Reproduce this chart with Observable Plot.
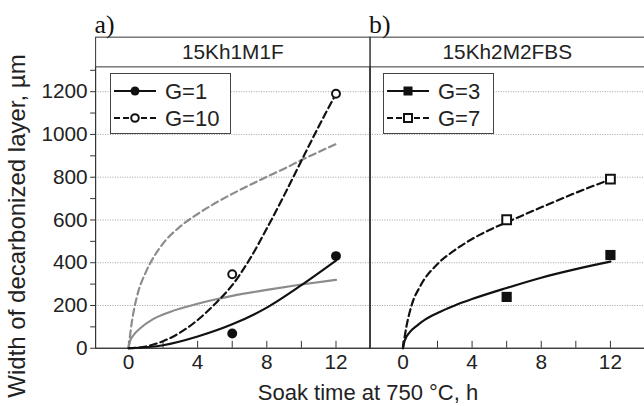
<!DOCTYPE html>
<html><head><meta charset="utf-8">
<script src="https://cdn.jsdelivr.net/npm/d3@7"></script>
<script src="https://cdn.jsdelivr.net/npm/@observablehq/plot@0.6"></script>
<style>
body{margin:0;background:#fff;overflow:hidden}
#wrap{position:relative;width:644px;height:406px;overflow:hidden;font-family:"Liberation Sans",Arial,sans-serif;color:#222;background:#fff}
.ov{position:absolute;white-space:nowrap;line-height:1}
</style></head><body><div id="wrap"></div>
<script>
// ---- data ----
const panels = ["15Kh1M1F", "15Kh2M2FBS"];
const panelTags = ["a)", "b)"];
const seriesA = ["G=1", "G=10"];
const seriesB = ["G=3", "G=7"];
const xTicks = [0, 2, 4, 6, 8, 10, 12];
const xLabels = [0, 4, 8, 12];
const yMajor = [0, 200, 400, 600, 800, 1000, 1200];
const yMinor = [100, 300, 500, 700, 900, 1100, 1300];
const gridVals = [200, 400, 600, 800, 1000, 1200];

// panel a) 15Kh1M1F
const g1Time = [6, 12];
const g1Width = [69, 431];
const g10Time = [6, 12];
const g10Width = [346, 1190];
const g1FitTime = [0, 2, 4, 6, 8, 10, 12];
const g1FitWidth = [0, 14, 55, 112, 190, 295, 410];
const g10FitTime = [0, 1, 2, 3, 4, 5, 6, 7, 8, 9, 10, 11, 12];
const g10FitWidth = [0, 8, 33, 74, 132, 207, 295, 415, 560, 715, 877, 1037, 1190];
const greySolidTime = [0, 0.1, 0.3, 0.7, 1.4, 2.4, 4, 5, 6, 8, 10, 12];
const greySolidWidth = [0, 35, 62, 95, 135, 170, 208, 228, 245, 273, 298, 320];
const greyDashTime = [0, 0.2, 0.5, 1, 1.5, 2, 3, 4, 5, 6, 7, 8, 9, 10, 11, 12];
const greyDashWidth = [0, 125, 245, 355, 432, 490, 570, 628, 678, 722, 763, 802, 840, 880, 918, 955];

// panel b) 15Kh2M2FBS
const g3Time = [6, 12];
const g3Width = [240, 436];
const g7Time = [6, 12];
const g7Width = [601, 791];
const g3FitTime = [0, 0.1, 0.4, 0.8, 1.3, 2, 3, 4, 6, 8, 10, 12];
const g3FitWidth = [0, 35, 75, 105, 135, 165, 200, 230, 282, 330, 370, 405];
const g7FitTime = [0, 0.2, 0.5, 1, 2, 3, 4, 5, 6, 8, 10, 12];
const g7FitWidth = [0, 100, 200, 290, 394, 459, 511, 553, 589, 659, 727, 790];

// ---- build tables ----
const rows = (panel, t, w) => t.map((x, i) => ({panel, t: x, w: w[i]}));
const panelRows = panels.map((p, i) => ({panel: p, tag: panelTags[i]}));

const BLACK = "#111";
const GREY = "#8c8c8c";
const FONT = "'Liberation Sans', Arial, sans-serif";
const line = {x: "t", y: "w", fx: "panel", curve: "monotone-x", strokeWidth: 2.2};
const pt = {x: "t", y: "w", fx: "panel"};

const chart = Plot.plot({
  width: 650, height: 406,
  marginTop: 67, marginBottom: 55, marginLeft: 95, marginRight: 0,
  x: {domain: [-1.9, 13.97]},
  y: {domain: [0, 1316]},
  fx: {domain: panels, padding: 0, axis: null},
  style: {fontFamily: FONT, fontSize: "21px", color: "#222", background: "white", overflow: "visible"},
  marks: [
    Plot.gridY(gridVals, {y: d => d, stroke: "#a0a0a0", strokeOpacity: 1, strokeDasharray: "1,1.5"}),
    Plot.frame({stroke: "#333", insetTop: -30}),
    Plot.frame({stroke: "#333"}),
    Plot.tickX(xTicks, {x: d => d, insetTop: 277, stroke: "#333"}),
    Plot.axisX({ticks: xLabels, tickSize: 0, tickPadding: 6, fontSize: 21, label: null, tickFormat: "d"}),
    Plot.axisY({ticks: yMajor, tickSize: 5, tickPadding: 3, fontSize: 21, label: null, stroke: "#333", tickFormat: "d"}),
    Plot.axisY({ticks: yMinor, tickSize: 5, tickFormat: () => "", label: null, stroke: "#333"}),
    Plot.text(panelRows, {fx: "panel", text: "panel", frameAnchor: "top", dy: -15, fontSize: 21, lineAnchor: "middle", fill: "#222"}),
    Plot.text(panelRows, {fx: "panel", text: "tag", frameAnchor: "top-left", dy: -43, dx: -1, textAnchor: "start", lineAnchor: "middle", fontFamily: "'Liberation Serif', 'Times New Roman', serif", fontSize: 26, fill: "#111"}),
    // panel a curves
    Plot.line(rows(panels[0], greyDashTime, greyDashWidth), {...line, stroke: GREY, strokeDasharray: "7,4"}),
    Plot.line(rows(panels[0], greySolidTime, greySolidWidth), {...line, stroke: GREY}),
    Plot.line(rows(panels[0], g10FitTime, g10FitWidth), {...line, stroke: BLACK, strokeDasharray: "7,4"}),
    Plot.line(rows(panels[0], g1FitTime, g1FitWidth), {...line, stroke: BLACK}),
    // panel b curves
    Plot.line(rows(panels[1], g7FitTime, g7FitWidth), {...line, stroke: BLACK, strokeDasharray: "7,4"}),
    Plot.line(rows(panels[1], g3FitTime, g3FitWidth), {...line, stroke: BLACK}),
    // points
    Plot.dot(rows(panels[0], g1Time, g1Width), {...pt, r: 5, fill: BLACK}),
    Plot.dot(rows(panels[0], g10Time, g10Width), {...pt, r: 4, fill: "white", stroke: BLACK, strokeWidth: 2}),
    Plot.dot(rows(panels[1], g3Time, g3Width), {...pt, symbol: "square", r: 5.8, fill: BLACK}),
    Plot.dot(rows(panels[1], g7Time, g7Width), {...pt, symbol: "square", r: 5, fill: "white", stroke: BLACK, strokeWidth: 2})
  ]
});

const wrap = document.getElementById("wrap");
wrap.appendChild(chart);

// ---- legends (overlay) ----
const ov = d3.select(wrap).append("svg")
  .attr("width", 644).attr("height", 406)
  .style("position", "absolute").style("left", 0).style("top", 0)
  .style("font-family", FONT);

function legend(x0, y0, w, h, labels, symbol) {
  const g = ov.append("g");
  g.append("rect").attr("x", x0 + 0.5).attr("y", y0 + 0.5).attr("width", w).attr("height", h)
    .attr("fill", "white").attr("stroke", "#444");
  labels.forEach((label, i) => {
    const cy = y0 + 18 + i * 27;
    const mx = x0 + 25;
    g.append("line").attr("x1", x0 + 4).attr("x2", x0 + 46).attr("y1", cy).attr("y2", cy)
      .attr("stroke", BLACK).attr("stroke-width", 2.2)
      .attr("stroke-dasharray", i === 1 ? "6,3" : null);
    const filled = i === 0;
    if (symbol === "circle") {
      g.append("circle").attr("cx", mx).attr("cy", cy).attr("r", filled ? 4.5 : 3.8)
        .attr("fill", filled ? BLACK : "white").attr("stroke", BLACK).attr("stroke-width", filled ? 0 : 2);
    } else {
      const s = filled ? 9 : 8;
      g.append("rect").attr("x", mx - s / 2).attr("y", cy - s / 2).attr("width", s).attr("height", s)
        .attr("fill", filled ? BLACK : "white").attr("stroke", BLACK).attr("stroke-width", filled ? 0 : 2);
    }
    g.append("text").attr("x", x0 + 55).attr("y", cy).attr("dy", "0.36em")
      .attr("font-size", 22).attr("fill", "#222").text(label);
  });
}
legend(110, 73, 120, 60, seriesA, "circle");
legend(383, 73, 110, 60, seriesB, "square");

// ---- axis titles ----
const yt = document.createElement("div");
yt.className = "ov";
yt.textContent = "Width of decarbonized layer, µm";
Object.assign(yt.style, {left: "17px", top: "226px", fontSize: "24px", transform: "translate(-50%,-50%) rotate(-90deg)"});
wrap.appendChild(yt);

const xt = document.createElement("div");
xt.className = "ov";
xt.textContent = "Soak time at 750 °C, h";
Object.assign(xt.style, {left: "368px", top: "393px", fontSize: "22px", transform: "translate(-50%,-50%)"});
wrap.appendChild(xt);
</script></body></html>
